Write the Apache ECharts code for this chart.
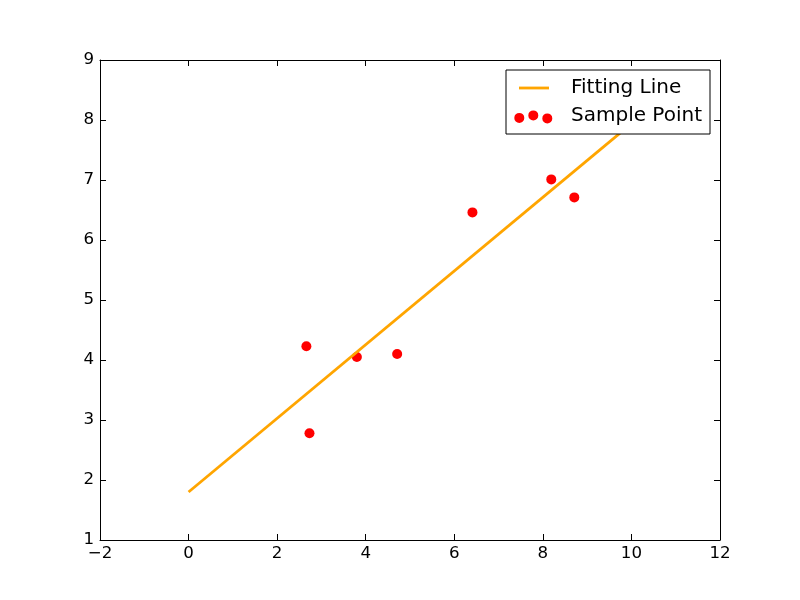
<!DOCTYPE html>
<html>
<head>
<meta charset="utf-8">
<script src="https://cdn.jsdelivr.net/npm/echarts@6/dist/echarts.min.js"></script>
<style>
html,body{margin:0;padding:0;background:#fff;}
#chart{width:800px;height:600px;}
</style>
</head>
<body>
<div id="chart"></div>
<script>
// Data
var sampleX = [2.66, 2.73, 3.80, 4.71, 6.41, 8.19, 8.71];
var sampleY = [4.23, 2.78, 4.05, 4.10, 6.46, 7.01, 6.71];
var lineX = [0, 10];
var lineY = [1.80, 7.94];
var xTicks = {min: -2, max: 12, interval: 2};
var yTicks = {min: 1, max: 9, interval: 1};
var seriesNames = ['Fitting Line', 'Sample Point'];

var FONT = 'DejaVu Sans';
function minus(v) { return String(v).replace('-', '\u2212'); }
function circ(cx, cy, r) {
  return 'M' + (cx - r) + ',' + cy + ' a' + r + ',' + r + ' 0 1,0 ' + (2 * r) + ',0 a' + r + ',' + r + ' 0 1,0 ' + (-2 * r) + ',0 Z ';
}
var lineIcon = 'path://M0,0 M52,20 M5,8.6 L35,8.6 L35,11.4 L5,11.4 Z';
var dotsIcon = 'path://M0,0 M52,20 ' + circ(5.3, 11.9, 5) + circ(19.3, 9.4, 5) + circ(33.3, 12.4, 5);

var axisCommon = {
  axisLine: {show: true, onZero: false, lineStyle: {color: '#000', width: 1}},
  axisTick: {show: true, inside: true, length: 6, lineStyle: {color: '#000', width: 1}},
  splitLine: {show: false}
};
function mk(base, extra) { return Object.assign({}, JSON.parse(JSON.stringify(base)), extra); }

var chart = echarts.init(document.getElementById('chart'));
chart.setOption({
  animation: false,
  backgroundColor: '#fff',
  textStyle: {fontFamily: FONT},
  grid: {left: 100, right: 80, top: 60, bottom: 60, containLabel: false},
  xAxis: [
    mk(axisCommon, {type: 'value', position: 'bottom', min: xTicks.min, max: xTicks.max, interval: xTicks.interval,
      axisLabel: {show: true, margin: 5, color: '#000', fontSize: 16.67, fontFamily: FONT, formatter: minus}}),
    mk(axisCommon, {type: 'value', position: 'top', min: xTicks.min, max: xTicks.max, interval: xTicks.interval,
      axisLabel: {show: false}})
  ],
  yAxis: [
    mk(axisCommon, {type: 'value', position: 'left', min: yTicks.min, max: yTicks.max, interval: yTicks.interval,
      axisLabel: {show: true, margin: 6, color: '#000', fontSize: 16.67, fontFamily: FONT, formatter: minus}}),
    mk(axisCommon, {type: 'value', position: 'right', min: yTicks.min, max: yTicks.max, interval: yTicks.interval,
      axisLabel: {show: false}})
  ],
  legend: {
    orient: 'vertical',
    left: 506,
    top: 70,
    padding: [8, 8, 8, 8],
    itemGap: 8,
    itemWidth: 52,
    itemHeight: 20,
    backgroundColor: '#fff',
    borderColor: '#000',
    borderWidth: 1,
    borderRadius: 0,
    itemStyle: {borderWidth: 0, opacity: 1},
    textStyle: {color: '#000', fontSize: 20, fontFamily: FONT, lineHeight: 20},
    data: [
      {name: seriesNames[0], icon: lineIcon},
      {name: seriesNames[1], icon: dotsIcon}
    ]
  },
  series: [
    {
      name: seriesNames[1],
      type: 'scatter',
      xAxisIndex: 0, yAxisIndex: 0,
      symbol: 'circle',
      symbolSize: 10,
      itemStyle: {color: '#ff0000', borderWidth: 0, opacity: 1},
      data: sampleX.map(function (x, i) { return [x, sampleY[i]]; }),
      z: 2
    },
    {
      name: seriesNames[0],
      type: 'line',
      xAxisIndex: 0, yAxisIndex: 0,
      showSymbol: false,
      symbol: 'none',
      color: '#ffa500',
      lineStyle: {color: '#ffa500', width: 2.8},
      itemStyle: {color: '#ffa500', borderWidth: 0},
      data: lineX.map(function (x, i) { return [x, lineY[i]]; }),
      z: 3
    }
  ]
});
</script>
</body>
</html>
